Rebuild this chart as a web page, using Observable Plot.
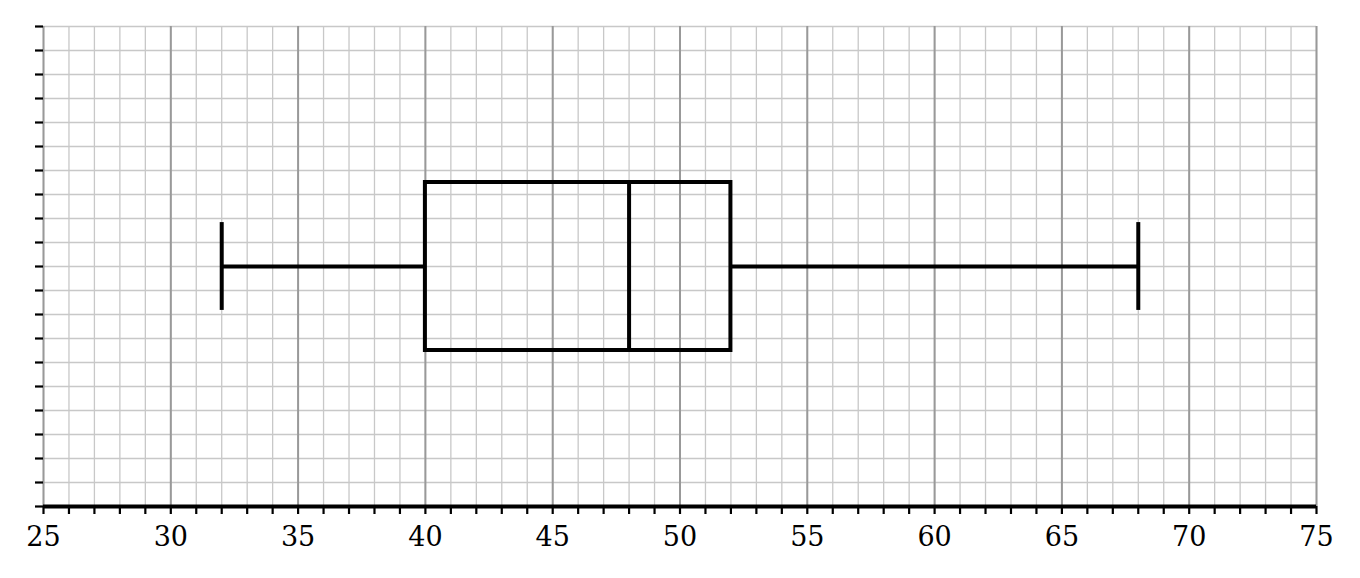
<!DOCTYPE html>
<html>
<head>
<meta charset="utf-8">
<script src="https://cdn.jsdelivr.net/npm/d3@7"></script>
<script src="https://cdn.jsdelivr.net/npm/@observablehq/plot@0.6"></script>
<style>
  html, body { margin: 0; padding: 0; background: #fff; }
  #chart svg { display: block; }
</style>
</head>
<body>
<div id="chart"></div>
<script>
// Five-number summary
const statNames = ["min", "q1", "median", "q3", "max"];
const statValues = [32, 40, 48, 52, 68];

// Axis definitions
const xDomain = [25, 75];
const xMinorTicks = d3.range(25, 76, 1);
const xMajorTicks = d3.range(25, 76, 5);
const yDomain = [0, 20];
const yTicks = d3.range(0, 21, 1);

const s = Object.fromEntries(statNames.map((n, i) => [n, statValues[i]]));

// layout (vertical placement of the box in grid units)
const yMid = 10, boxHalf = 3.5, capHalf = 1.83;

const font = "'DejaVu Serif', serif";
const ink = "#000";
const sw = 4;

const plot = Plot.plot({
  width: 1360,
  height: 578,
  marginLeft: 43,
  marginRight: 44,
  marginTop: 26,
  marginBottom: 72,
  style: { fontFamily: font, fontSize: "27px", background: "#fff" },
  x: { domain: xDomain },
  y: { domain: yDomain },
  marks: [
    Plot.ruleX(xMinorTicks, { x: d => d, stroke: "#c8c8c8", strokeWidth: 1.3 }),
    Plot.ruleY(yTicks, { y: d => d, stroke: "#c8c8c8", strokeWidth: 1.3 }),
    Plot.ruleX(xMajorTicks, { x: d => d, stroke: "#999", strokeWidth: 2 }),
    Plot.axisY({ ticks: yTicks, tickSize: 8, tickFormat: () => "", stroke: ink, strokeWidth: 2.2, label: null }),
    Plot.ruleY([0], { stroke: ink, strokeWidth: 4 }),
    Plot.axisX({
      ticks: xMinorTicks,
      tickSize: 8,
      tickPadding: 12,
      stroke: ink,
      strokeWidth: 2.2,
      tickFormat: d => (d % 5 === 0 ? String(d) : ""),
      fontSize: 27,
      fill: ink,
      label: null
    }),
    // whiskers
    Plot.ruleY([{ a: s.min, b: s.q1 }, { a: s.q3, b: s.max }], { x1: "a", x2: "b", y: yMid, stroke: ink, strokeWidth: sw }),
    // caps
    Plot.ruleX([s.min, s.max], { x: d => d, y1: yMid - capHalf, y2: yMid + capHalf, stroke: ink, strokeWidth: sw }),
    // box
    Plot.rect([{ a: s.q1, b: s.q3 }], { x1: "a", x2: "b", y1: yMid - boxHalf, y2: yMid + boxHalf, fill: "none", stroke: ink, strokeWidth: sw }),
    // median
    Plot.ruleX([s.median], { x: d => d, y1: yMid - boxHalf, y2: yMid + boxHalf, stroke: ink, strokeWidth: sw })
  ]
});
document.getElementById("chart").appendChild(plot);
</script>
</body>
</html>
